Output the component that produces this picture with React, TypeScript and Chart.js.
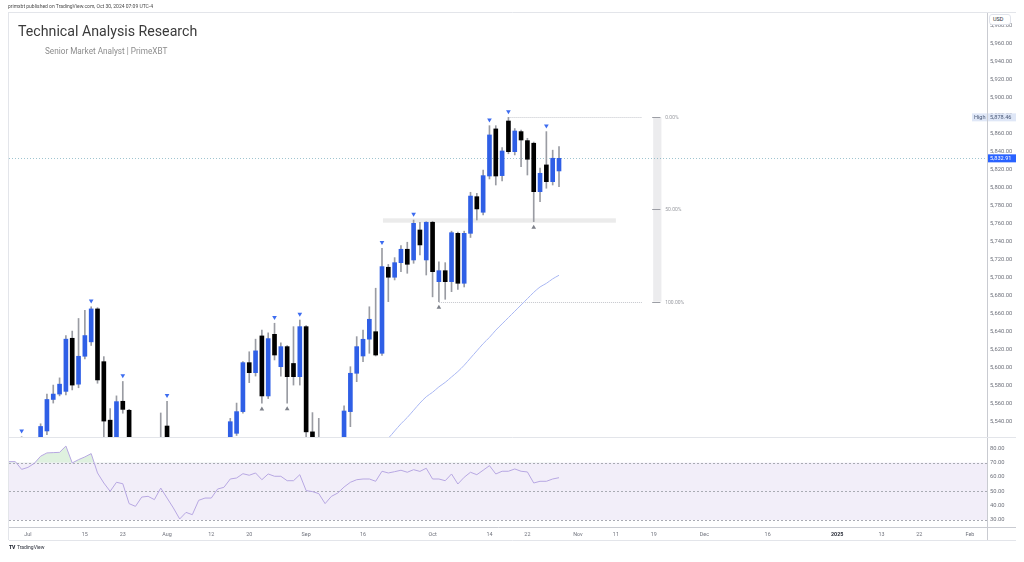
import React, { useEffect, useRef } from 'react';
import { Chart, registerables } from 'chart.js';

Chart.register(...registerables);

const FONT = 'Roboto, "Liberation Sans", Arial, sans-serif';

// ---------- data ----------
// trading sessions; the first one sits 3 sessions before Jul 1 (x = -3)
const dates = [
  '2024-06-26', '2024-06-27', '2024-06-28',
  '2024-07-01', '2024-07-02', '2024-07-03', '2024-07-05', '2024-07-08', '2024-07-09', '2024-07-10', '2024-07-11',
  '2024-07-12', '2024-07-15', '2024-07-16', '2024-07-17', '2024-07-18', '2024-07-19', '2024-07-22', '2024-07-23',
  '2024-07-24', '2024-07-25', '2024-07-26', '2024-07-29', '2024-07-30', '2024-07-31',
  '2024-08-01', '2024-08-02', '2024-08-05', '2024-08-06', '2024-08-07', '2024-08-08', '2024-08-09', '2024-08-12',
  '2024-08-13', '2024-08-14', '2024-08-15', '2024-08-16', '2024-08-19', '2024-08-20', '2024-08-21', '2024-08-22',
  '2024-08-23', '2024-08-26', '2024-08-27', '2024-08-28', '2024-08-29', '2024-08-30',
  '2024-09-03', '2024-09-04', '2024-09-05', '2024-09-06', '2024-09-09', '2024-09-10', '2024-09-11', '2024-09-12',
  '2024-09-13', '2024-09-16', '2024-09-17', '2024-09-18', '2024-09-19', '2024-09-20', '2024-09-23', '2024-09-24',
  '2024-09-25', '2024-09-26', '2024-09-27', '2024-09-30',
  '2024-10-01', '2024-10-02', '2024-10-03', '2024-10-04', '2024-10-07', '2024-10-08', '2024-10-09', '2024-10-10',
  '2024-10-11', '2024-10-14', '2024-10-15', '2024-10-16', '2024-10-17', '2024-10-18', '2024-10-21', '2024-10-22',
  '2024-10-23', '2024-10-24', '2024-10-25', '2024-10-28', '2024-10-29',
];
const FIRST_X = -3;

const opens = [
  5460.7, 5473.6, 5488.5,
  5471.1, 5461.8, 5509.0, 5530.0, 5565.0, 5571.0, 5574.0, 5633.0, 5582.0, 5613.0, 5629.0, 5665.6, 5607.0, 5542.0,
  5508.0, 5563.0, 5553.0, 5428.7, 5433.7, 5476.6, 5478.7, 5505.6,
  5535.5, 5376.6, 5151.1, 5206.4, 5293.1, 5252.6, 5314.1, 5353.5, 5376.7, 5442.7, 5501.0, 5527.4, 5551.5, 5605.9,
  5594.8, 5635.6, 5568.9, 5637.4, 5601.4, 5623.7, 5605.0, 5590.3,
  5645.9, 5529.0, 5520.0, 5507.3, 5442.1, 5490.5, 5496.0, 5551.5, 5594.1, 5613.3, 5632.0, 5640.3, 5616.3, 5711.9,
  5700.8, 5717.0, 5731.9, 5720.0, 5753.3, 5720.0,
  5761.9, 5695.9, 5708.1, 5695.9, 5749.6, 5694.1, 5749.6, 5790.3, 5773.0, 5813.3, 5865.6, 5813.7, 5874.4, 5840.3,
  5862.6, 5852.6, 5849.7, 5795.9, 5825.6, 5807.0, 5818.9,
];
const highs = [
  5483.1, 5490.8, 5523.6,
  5479.5, 5509.7, 5538.0, 5571.0, 5581.0, 5589.0, 5636.0, 5641.0, 5655.0, 5664.0, 5668.0, 5667.0, 5612.6, 5555.0,
  5569.0, 5585.0, 5554.0, 5491.6, 5488.3, 5487.7, 5489.5, 5550.0,
  5563.0, 5383.9, 5250.9, 5312.3, 5330.6, 5328.0, 5358.5, 5371.2, 5436.5, 5463.2, 5544.0, 5561.0, 5607.0, 5618.0,
  5632.0, 5642.0, 5639.0, 5649.7, 5628.0, 5625.0, 5645.9, 5653.3,
  5647.0, 5550.4, 5544.0, 5522.3, 5484.2, 5497.1, 5558.0, 5601.4, 5634.8, 5642.0, 5668.0, 5688.6, 5733.0, 5715.0,
  5722.6, 5735.9, 5739.7, 5764.4, 5761.9, 5762.5,
  5763.0, 5718.0, 5717.0, 5752.0, 5751.0, 5752.0, 5795.2, 5794.0, 5820.0, 5869.2, 5869.2, 5844.8, 5878.46, 5866.0,
  5864.4, 5855.2, 5851.0, 5822.0, 5862.6, 5842.0, 5845.9,
];
const lows = [
  5451.9, 5469.5, 5451.1,
  5446.5, 5458.4, 5507.0, 5526.0, 5561.0, 5569.0, 5570.0, 5575.6, 5578.0, 5610.0, 5625.0, 5583.0, 5522.0, 5497.0,
  5505.0, 5549.7, 5420.0, 5391.0, 5430.7, 5444.4, 5398.9, 5461.7,
  5410.4, 5302.0, 5119.3, 5193.6, 5195.5, 5233.9, 5309.1, 5324.4, 5376.7, 5415.9, 5497.0, 5525.0, 5549.7, 5583.7,
  5591.0, 5560.8, 5566.0, 5608.9, 5591.0, 5561.0, 5581.0, 5581.0,
  5511.0, 5503.0, 5491.0, 5402.6, 5434.5, 5441.7, 5406.0, 5534.8, 5584.8, 5607.0, 5616.3, 5613.3, 5614.0, 5673.7,
  5697.8, 5707.0, 5705.2, 5716.3, 5725.6, 5703.3,
  5679.0, 5673.7, 5676.3, 5684.8, 5687.4, 5690.0, 5745.0, 5764.4, 5770.0, 5810.0, 5803.3, 5807.8, 5838.0, 5836.7,
  5823.7, 5814.4, 5762.6, 5784.8, 5799.7, 5803.3, 5801.4,
];
const closes = [
  5477.9, 5482.9, 5460.5,
  5475.1, 5509.0, 5535.0, 5565.0, 5571.0, 5582.0, 5632.0, 5581.0, 5613.0, 5636.0, 5665.6, 5586.7, 5541.0, 5505.0,
  5562.6, 5554.0, 5427.1, 5399.2, 5459.1, 5463.5, 5436.4, 5522.3,
  5446.7, 5346.6, 5186.3, 5240.0, 5199.5, 5319.3, 5344.2, 5344.4, 5434.4, 5455.2, 5540.3, 5551.5, 5605.9, 5594.8,
  5619.0, 5568.9, 5632.6, 5614.4, 5623.7, 5590.3, 5590.3, 5645.9,
  5529.0, 5520.0, 5503.4, 5408.4, 5471.1, 5495.5, 5552.2, 5594.1, 5623.7, 5631.9, 5654.1, 5614.4, 5712.6, 5700.8,
  5717.0, 5731.9, 5715.2, 5760.7, 5736.7, 5761.9,
  5707.0, 5708.1, 5695.9, 5750.3, 5694.1, 5749.6, 5791.0, 5776.7, 5813.7, 5858.9, 5813.3, 5841.1, 5840.3, 5863.3,
  5853.3, 5831.9, 5795.9, 5816.3, 5807.0, 5833.0, 5832.91,
];

// moving average (starts at x = 50)
const maStartX = 50;
const maValues = [
  5485, 5491, 5497, 5502, 5507, 5512, 5517, 5522, 5530, 5538, 5545, 5553, 5561, 5568, 5573, 5579, 5584, 5590,
  5596, 5603, 5611, 5619, 5627, 5634, 5642, 5649, 5656, 5663, 5670, 5677, 5684, 5690, 5694, 5699, 5703,
];

// RSI, aligned with dates
const rsiValues = [
  70.7, 70.7, 65.3,
  66.7, 69.5, 74.5, 76.8, 77.0, 77.2, 81.6, 69.8, 72.1, 74.0, 76.3, 62.8, 55.8, 50.0, 56.3, 55.3, 41.4, 39.5,
  46.0, 46.5, 44.2, 52.3,
  45.3, 38.4, 30.7, 35.3, 33.7, 43.7, 45.3, 45.3, 51.6, 52.8, 58.6, 59.3, 62.3, 61.2, 62.8, 58.1, 62.1, 60.5,
  60.5, 57.4, 57.4, 61.6,
  50.5, 49.8, 48.4, 41.4, 46.5, 48.8, 53.0, 56.3, 58.1, 58.6, 58.6, 57.0, 64.0, 62.8, 63.7, 64.7, 63.3, 65.1,
  63.9, 66.1,
  58.6, 58.6, 57.4, 62.1, 55.1, 59.8, 63.3, 61.6, 64.7, 67.9, 62.1, 64.0, 64.0, 65.6, 64.0, 63.5, 55.8, 57.0,
  57.0, 58.6, 59.5,
];

const pivotHighX = [-1, 10, 15, 22, 39, 43, 56, 61, 73, 76, 82];
const pivotLowX = [37, 41, 65, 80];

// time axis
const tickX = [0, 9, 15, 22, 29, 35, 44, 53, 64, 73, 79, 87, 93, 99, 107, 117, 128, 135, 141, 149];
const tickLabels = ['Jul', '15', '23', 'Aug', '12', '20', 'Sep', '16', 'Oct', '14', '22', 'Nov', '11', '19', 'Dec', '16', '2025', '13', '22', 'Feb'];

const priceTicks = [5540, 5560, 5580, 5600, 5620, 5640, 5660, 5680, 5700, 5720, 5740, 5760, 5780, 5800, 5820, 5840, 5860, 5880, 5900, 5920, 5940, 5960, 5980];
const rsiTicks = [30, 40, 50, 60, 70, 80];
const rsiLevels = [70, 50, 30];
const rsiBand = [70, 30];

const lastPrice = 5832.91;
const highPrice = 5878.46;

// fibonacci retracement drawing
const fibHigh = 5878.46;
const fibLow = 5673.7;
const fibLevels = [0, 0.5, 1];
const fibLabels = ['0.00%', '50.00%', '100.00%'];
const fibLineLevels = [0, 1];
const fibLineFromX = [76, 65];
const fibLineToX = 97.1;
const fibBarX = [98.9, 100.2];
const fibLabelX = 100.8;

// horizontal zone
const zoneX = [56.15, 93];
const zonePrice = [5761.4, 5766.3];

const X_MIN = -3;
const X_MAX = 151.7;
const PRICE_MIN = 5523.3;
const PRICE_MAX = 5994.4;
const RSI_MIN = 25.1;
const RSI_MAX = 87.9;
const MARK_GAP = 6.5;

// ---------- styles ----------
const BLUE = '#2f5fe6';
const BLACK = '#000000';
const WICK = '#9a9ca3';
const MA_COLOR = '#a9b7f3';
const RSI_COLOR = '#b7a7e2';
const AXIS_TEXT = '#6f727c';
const FRAME = '#e3e5ea';

const fmtPrice = (v: number) =>
  v.toLocaleString('en-US', { minimumFractionDigits: 2, maximumFractionDigits: 2 });

const xs = dates.map((_, i) => i + FIRST_X);

const paneClip = {
  id: 'paneClip',
  beforeDatasetDraw(chart: any, args: any) {
    const ds = chart.data.datasets[args.index];
    const sc = chart.scales[ds.yAxisID || 'y'];
    const { ctx, chartArea } = chart;
    ctx.save();
    ctx.beginPath();
    ctx.rect(chartArea.left, sc.top, chartArea.right - chartArea.left, sc.bottom - sc.top);
    ctx.clip();
  },
  afterDatasetDraw(chart: any) {
    chart.ctx.restore();
  },
};

const overlay = {
  id: 'overlay',
  beforeDatasetsDraw(chart: any) {
    const { ctx, chartArea: ca, scales } = chart;
    const x = scales.x;
    const y = scales.y;
    const yr = scales.yr;
    ctx.save();
    // RSI band
    const yb1 = yr.getPixelForValue(rsiBand[0]);
    const yb2 = yr.getPixelForValue(rsiBand[1]);
    ctx.fillStyle = 'rgba(126,87,194,0.10)';
    ctx.fillRect(ca.left, yb1, ca.right - ca.left, yb2 - yb1);
    ctx.setLineDash([2, 2]);
    ctx.strokeStyle = '#a9abb3';
    ctx.lineWidth = 1;
    for (const lv of rsiLevels) {
      const py = Math.round(yr.getPixelForValue(lv)) + 0.5;
      ctx.beginPath();
      ctx.moveTo(ca.left, py);
      ctx.lineTo(ca.right, py);
      ctx.stroke();
    }
    ctx.setLineDash([]);

    // main pane drawings
    ctx.beginPath();
    ctx.rect(ca.left, y.top, ca.right - ca.left, y.bottom - y.top);
    ctx.clip();

    // zone
    const zy1 = y.getPixelForValue(zonePrice[1]);
    const zy2 = y.getPixelForValue(zonePrice[0]);
    ctx.fillStyle = 'rgba(0,0,0,0.08)';
    ctx.fillRect(x.getPixelForValue(zoneX[0]), zy1, x.getPixelForValue(zoneX[1]) - x.getPixelForValue(zoneX[0]), zy2 - zy1);

    // fib
    const fibPrice = (lv: number) => fibHigh - lv * (fibHigh - fibLow);
    ctx.setLineDash([1, 1]);
    ctx.strokeStyle = '#c4c6cc';
    fibLineLevels.forEach((lv, i) => {
      const py = Math.round(y.getPixelForValue(fibPrice(lv))) + 0.5;
      ctx.beginPath();
      ctx.moveTo(x.getPixelForValue(fibLineFromX[i]), py);
      ctx.lineTo(x.getPixelForValue(fibLineToX), py);
      ctx.stroke();
    });
    ctx.setLineDash([]);
    const bx1 = x.getPixelForValue(fibBarX[0]);
    const bx2 = x.getPixelForValue(fibBarX[1]);
    const by1 = y.getPixelForValue(fibPrice(0));
    const by2 = y.getPixelForValue(fibPrice(1));
    ctx.fillStyle = '#ececee';
    ctx.fillRect(bx1, by1, bx2 - bx1, by2 - by1);
    ctx.strokeStyle = '#9c9ea5';
    ctx.font = `5px ${FONT}`;
    ctx.textBaseline = 'middle';
    ctx.textAlign = 'left';
    fibLevels.forEach((lv, i) => {
      const py = Math.round(y.getPixelForValue(fibPrice(lv))) + 0.5;
      ctx.beginPath();
      ctx.moveTo(bx1 - 1, py);
      ctx.lineTo(bx2 - 1, py);
      ctx.stroke();
      ctx.fillStyle = '#9a9ca2';
      ctx.fillText(fibLabels[i], x.getPixelForValue(fibLabelX), py);
    });

    // last price line
    const lp = Math.round(y.getPixelForValue(lastPrice)) + 0.5;
    ctx.setLineDash([1, 2]);
    ctx.strokeStyle = 'rgba(80,150,170,0.55)';
    ctx.beginPath();
    ctx.moveTo(ca.left, lp);
    ctx.lineTo(ca.right, lp);
    ctx.stroke();
    ctx.setLineDash([]);
    ctx.restore();
  },
  afterDraw(chart: any) {
    const { ctx, chartArea: ca, scales } = chart;
    const x = scales.x;
    const y = scales.y;
    ctx.save();
    // frame & separators
    ctx.strokeStyle = FRAME;
    ctx.lineWidth = 1;
    const hl = (py: number, x1: number, x2: number) => {
      ctx.beginPath();
      ctx.moveTo(x1, Math.round(py) + 0.5);
      ctx.lineTo(x2, Math.round(py) + 0.5);
      ctx.stroke();
    };
    hl(ca.top - 1, ca.left, y.right);
    hl(y.bottom, ca.left, y.right);
    hl(x.bottom, ca.left, y.right);
    ctx.beginPath();
    ctx.moveTo(ca.left - 0.5, ca.top - 1);
    ctx.lineTo(ca.left - 0.5, x.bottom);
    ctx.stroke();
    ctx.strokeStyle = '#c9cbd1';
    hl(x.top, ca.right, y.right);
    ctx.beginPath();
    ctx.moveTo(ca.right + 0.5, x.top);
    ctx.lineTo(ca.right + 0.5, x.bottom);
    ctx.stroke();

    ctx.font = `5.6px ${FONT}`;
    ctx.textBaseline = 'middle';
    ctx.textAlign = 'left';
    // high label
    const hp = y.getPixelForValue(highPrice);
    ctx.fillStyle = '#dfe7f7';
    ctx.fillRect(ca.right - 15, hp - 4, 15, 8);
    ctx.fillRect(y.left + 1, hp - 4, y.right - y.left - 1, 8);
    ctx.fillStyle = '#4b5a78';
    ctx.fillText('High', ca.right - 13, hp + 0.3);
    ctx.fillText(fmtPrice(highPrice), y.left + 3, hp + 0.3);

    // last price label
    const lp = y.getPixelForValue(lastPrice);
    ctx.fillStyle = '#2962ff';
    ctx.fillRect(y.left + 1, lp - 4, y.right - y.left - 1, 8);
    ctx.fillStyle = '#ffffff';
    ctx.fillText(fmtPrice(lastPrice), y.left + 3, lp + 0.3);
    ctx.restore();
  },
};

function buildConfig(): any {
  const wickData = xs.map((xv, i) => ({ x: xv, y: [lows[i], highs[i]] }));
  const bodyData = xs.map((xv, i) => ({ x: xv, y: [opens[i], closes[i]] }));
  const maData = maValues.map((v, i) => ({ x: maStartX + i, y: v }));
  const rsiData = rsiValues.map((v, i) => ({ x: xs[i], y: v }));
  const phData = pivotHighX.map((xv) => ({ x: xv, y: highs[xv - FIRST_X] + MARK_GAP }));
  const plData = pivotLowX.map((xv) => ({ x: xv, y: lows[xv - FIRST_X] - MARK_GAP }));

  const tickFont = { family: FONT, size: 5.8 };

  return {
    type: 'bar',
    data: {
      datasets: [
        {
          type: 'bar', data: wickData, yAxisID: 'y', backgroundColor: WICK, barThickness: 1,
          grouped: false, borderWidth: 0, order: 6,
        },
        {
          type: 'bar', data: bodyData, yAxisID: 'y', barThickness: 4, grouped: false, borderWidth: 0, order: 5,
          backgroundColor: (c: any) => (closes[c.dataIndex] >= opens[c.dataIndex] ? BLUE : BLACK),
        },
        {
          type: 'line', data: maData, yAxisID: 'y', borderColor: MA_COLOR, borderWidth: 1, pointRadius: 0,
          tension: 0.3, order: 4,
        },
        {
          type: 'scatter', data: phData, yAxisID: 'y', pointStyle: 'triangle', rotation: 180, pointRadius: 2.7,
          backgroundColor: '#3d6cf0', borderWidth: 0, order: 3,
        },
        {
          type: 'scatter', data: plData, yAxisID: 'y', pointStyle: 'triangle', rotation: 0, pointRadius: 2.7,
          backgroundColor: '#7d8089', borderWidth: 0, order: 3,
        },
        {
          type: 'line', data: rsiData, yAxisID: 'yr', borderColor: RSI_COLOR, borderWidth: 1, pointRadius: 0,
          tension: 0, order: 1,
          fill: { target: { value: 70 }, above: 'rgba(76,175,80,0.18)', below: 'rgba(0,0,0,0)' },
        },
      ],
    },
    options: {
      animation: false,
      responsive: false,
      events: [],
      layout: { padding: { left: 9, top: 13, right: 8, bottom: 22 } },
      plugins: { legend: { display: false }, tooltip: { enabled: false } },
      scales: {
        x: {
          type: 'linear', position: 'bottom', min: X_MIN, max: X_MAX, offset: false,
          grid: { display: false, drawTicks: false },
          border: { display: true, color: '#c9cbd1', width: 1 },
          afterBuildTicks: (s: any) => { s.ticks = tickX.map((v) => ({ value: v })); },
          afterFit: (s: any) => { s.height = 13; },
          ticks: {
            autoSkip: false, maxRotation: 0, padding: 4,
            color: (c: any) => (c.tick && tickLabels[tickX.indexOf(c.tick.value)] === '2025' ? '#2a2e39' : AXIS_TEXT),
            font: (c: any) => ({
              family: FONT, size: 5.4,
              weight: c.tick && tickLabels[tickX.indexOf(c.tick.value)] === '2025' ? 'bold' : 'normal',
            }),
            callback: (v: any) => {
              const k = tickX.indexOf(Number(v));
              return k >= 0 ? tickLabels[k] : '';
            },
          },
        },
        y: {
          type: 'linear', position: 'right', stack: 'panes', stackWeight: 424, min: PRICE_MIN, max: PRICE_MAX,
          grid: { display: false, drawTicks: false },
          border: { display: true, color: '#c9cbd1', width: 1 },
          afterBuildTicks: (s: any) => { s.ticks = priceTicks.map((v) => ({ value: v })); },
          afterFit: (s: any) => { s.width = 29; },
          ticks: { autoSkip: false, padding: 3, color: AXIS_TEXT, font: tickFont, callback: (v: any) => fmtPrice(Number(v)) },
        },
        yr: {
          type: 'linear', position: 'right', stack: 'panes', stackWeight: 90, min: RSI_MIN, max: RSI_MAX,
          grid: { display: false, drawTicks: false },
          border: { display: true, color: '#c9cbd1', width: 1 },
          afterBuildTicks: (s: any) => { s.ticks = rsiTicks.map((v) => ({ value: v })); },
          afterFit: (s: any) => { s.width = 29; },
          ticks: { autoSkip: false, padding: 3, color: AXIS_TEXT, font: tickFont, callback: (v: any) => Number(v).toFixed(2) },
        },
      },
    },
    plugins: [paneClip, overlay],
  };
}

export default function App() {
  const ref = useRef<HTMLCanvasElement>(null);
  useEffect(() => {
    document.body.style.margin = '0';
    const chart = new Chart(ref.current as HTMLCanvasElement, buildConfig());
    return () => chart.destroy();
  }, []);

  return (
    <div style={{ position: 'fixed', left: 0, top: 0, width: 1024, height: 562, background: '#fff', overflow: 'hidden', fontFamily: FONT }}>
      <canvas ref={ref} width={1024} height={562} style={{ position: 'absolute', left: 0, top: 0, width: 1024, height: 562 }} />
      <div style={{ position: 'absolute', left: 8, top: 3.6, fontSize: 5, lineHeight: 1, color: '#4a4a4a', whiteSpace: 'nowrap' }}>
        primxbt published on TradingView.com, Oct 30, 2024 07:09 UTC-4
      </div>
      <div style={{ position: 'absolute', left: 18, top: 24, fontSize: 14.2, lineHeight: 1, color: '#3b3b3b', whiteSpace: 'nowrap' }}>
        Technical Analysis Research
      </div>
      <div style={{ position: 'absolute', left: 45, top: 46.5, fontSize: 8.2, lineHeight: 1, color: '#8c8c8c', whiteSpace: 'nowrap' }}>
        Senior Market Analyst | PrimeXBT
      </div>
      <div style={{ position: 'absolute', left: 989, top: 14, width: 22, height: 11, boxSizing: 'border-box', border: '1px solid #e0e3eb', borderRadius: 3, background: '#fff', fontSize: 5.5, lineHeight: '9px', color: '#2a2e39', paddingLeft: 3 }}>
        USD
      </div>
      <div style={{ position: 'absolute', left: 9, top: 545, fontSize: 5, lineHeight: 1, color: '#2a2e39', whiteSpace: 'nowrap' }}>
        <span style={{ fontWeight: 900, letterSpacing: -0.3, marginRight: 2 }}>TV</span>TradingView
      </div>
    </div>
  );
}
